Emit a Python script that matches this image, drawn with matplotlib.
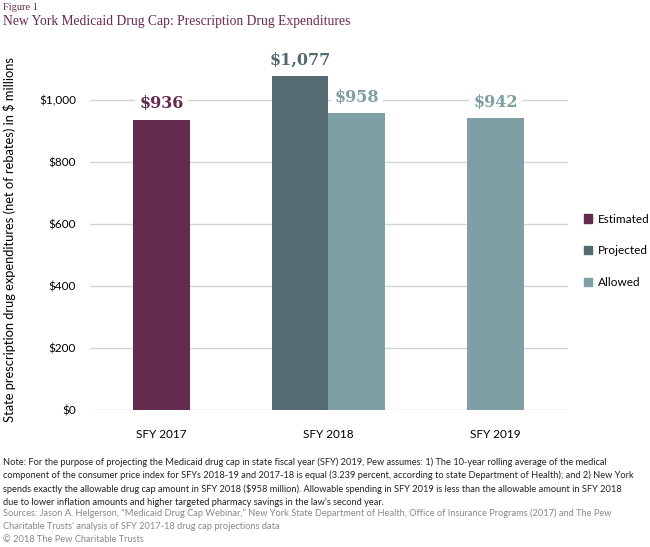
import matplotlib.pyplot as plt
from matplotlib.patches import Patch

# datos
categorias = ['SFY 2017', 'SFY 2018', 'SFY 2019']
estimado = [936]
proyectado = [1077]
permitido = [958, 942]
yticks = [0, 200, 400, 600, 800, 1000]

c_est = '#632b4d'
c_proy = '#546c71'
c_perm = '#7ea0a5'
c_titulo = '#6b2a50'

plt.rcParams['font.family'] = ['Lato', 'DejaVu Sans']

fig = plt.figure(figsize=(6.5, 5.47), dpi=100)
ax = fig.add_axes([90/650, 1-410/547, 478/650, 341/547])

w = 0.341
b1 = ax.bar([0], estimado, w, color=c_est, zorder=2)
b2 = ax.bar([1 - w/2], proyectado, w, color=c_proy, zorder=2)
b3 = ax.bar([1 + w/2, 2], permitido, w, color=c_perm, zorder=2)

for barras, col in [(b1, c_est), (b2, c_proy), (b3, c_perm)]:
    for b in barras:
        ax.text(b.get_x() + b.get_width()/2, b.get_height() + 24, '${:,.0f}'.format(b.get_height()),
                ha='center', va='bottom', fontsize=11.5, fontweight='bold', color=col,
                family=['DejaVu Serif'], zorder=3,
                bbox=dict(facecolor='white', edgecolor='none', pad=3))

ax.set_xlim(-0.428, 2.434)
ax.set_ylim(0, 1100)
ax.set_yticks(yticks)
ax.set_yticklabels(['${:,}'.format(v) for v in yticks], fontsize=8.5)
ax.set_xticks([0, 1, 2])
ax.set_xticklabels(categorias, fontsize=8.5)
ax.tick_params(length=0, axis='y', pad=10)
ax.tick_params(length=0, axis='x', pad=14)
ax.grid(axis='y', color='#d5d5d5', linewidth=1, zorder=0)
for s in ax.spines.values():
    s.set_visible(False)

ax.set_ylabel('State prescription drug expenditures (net of rebates) in $ millions', fontsize=9.3, labelpad=8)
ax.yaxis.set_label_coords(-0.155, 0.5)

handles = [Patch(color=c_est, label='Estimated'), Patch(color=c_proy, label='Projected'),
           Patch(color=c_perm, label='Allowed')]
fig.legend(handles=handles, loc='upper left', bbox_to_anchor=(573/650, 1-203/547), frameon=False,
           handlelength=0.7, handleheight=0.7, handletextpad=0.5, labelspacing=1.75, fontsize=8.5)

fig.text(3/650, 1-7/547, 'Figure 1', fontsize=7.5, color=c_titulo, family=['Liberation Serif'], va='center')
fig.text(3/650, 1-21/547, 'New York Medicaid Drug Cap: Prescription Drug Expenditures', fontsize=9.8,
         color=c_titulo, family=['Liberation Serif'], va='center')

nota = ('Note: For the purpose of projecting the Medicaid drug cap in state fiscal year (SFY) 2019, Pew assumes: 1) The 10-year rolling average of the medical\n'
        'component of the consumer price index for SFYs 2018-19 and 2017-18 is equal (3.239 percent, according to state Department of Health); and 2) New York\n'
        'spends exactly the allowable drug cap amount in SFY 2018 ($958 million). Allowable spending in SFY 2019 is less than the allowable amount in SFY 2018\n'
        'due to lower inflation amounts and higher targeted pharmacy savings in the law\u2019s second year.')
fig.text(3/650, 1-457/547, nota, fontsize=6.65, va='top', linespacing=1.5, color='#222222')
fuentes = ('Sources: Jason A. Helgerson, \u201cMedicaid Drug Cap Webinar,\u201d New York State Department of Health, Office of Insurance Programs (2017) and The Pew\n'
           'Charitable Trusts\u2019 analysis of SFY 2017-18 drug cap projections data')
fig.text(3/650, 1-508/547, fuentes, fontsize=6.65, va='top', linespacing=1.5, color='#888888')
fig.text(3/650, 1-540/547, '\u00a9 2018 The Pew Charitable Trusts', fontsize=6.65, va='center', color='#888888')

fig.savefig('out.png', dpi=100)
